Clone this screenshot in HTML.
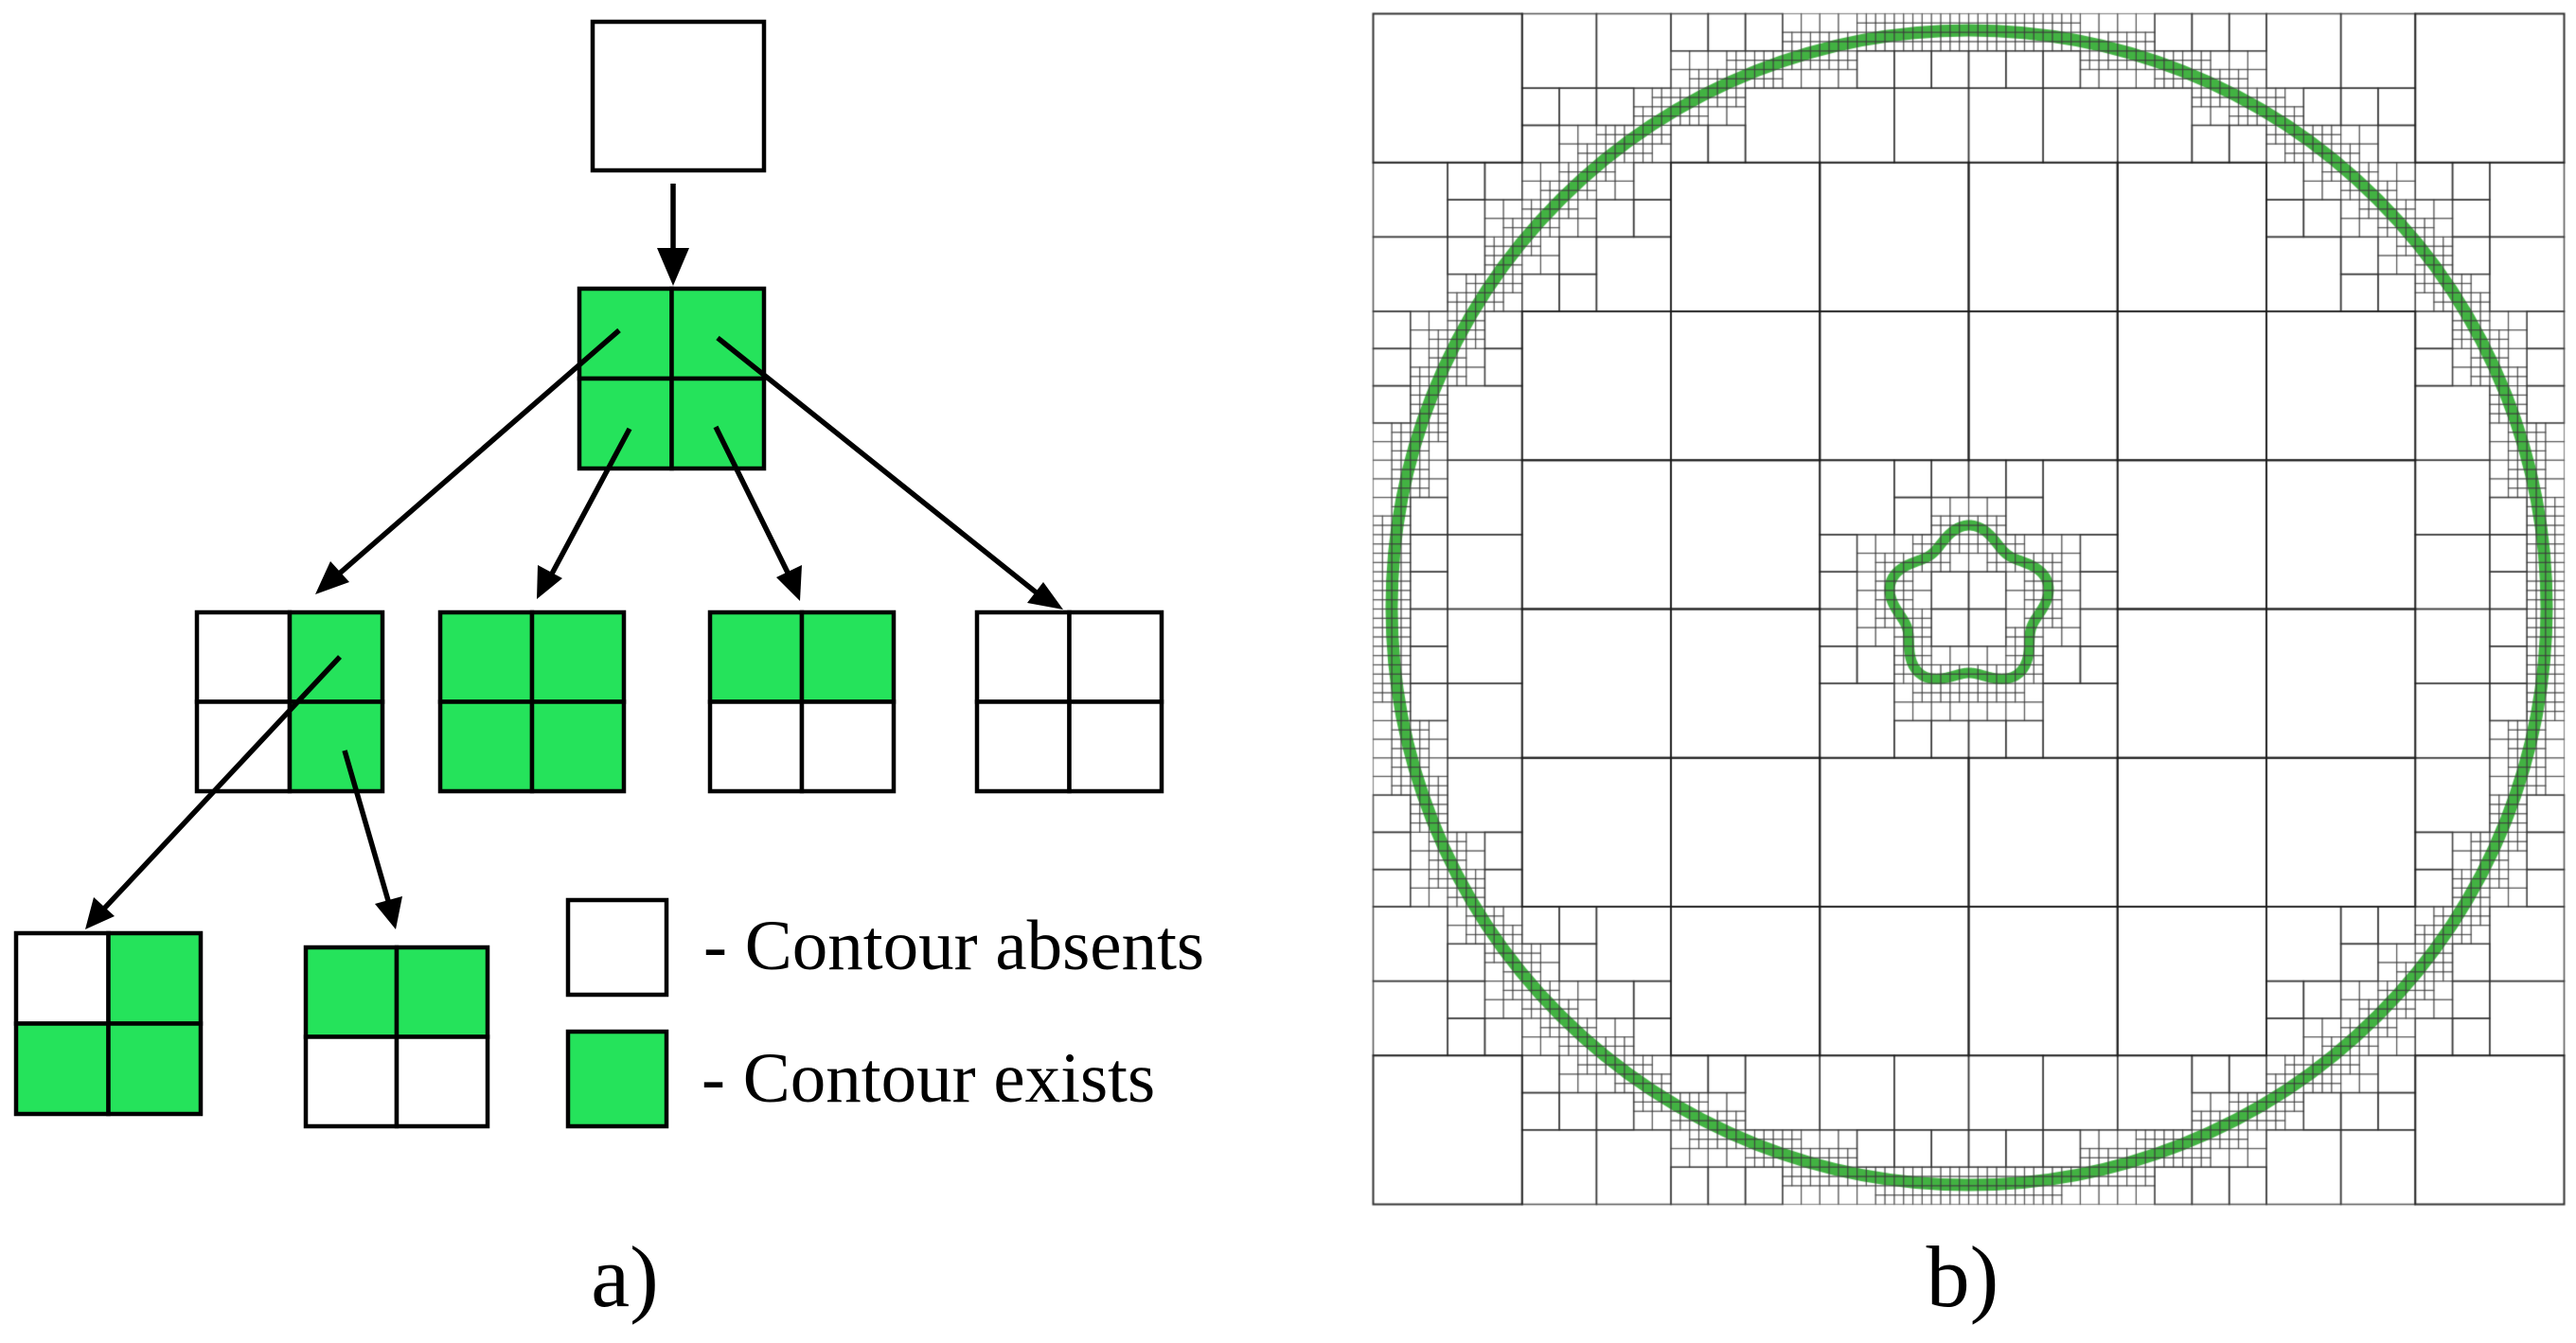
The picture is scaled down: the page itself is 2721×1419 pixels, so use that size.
<!DOCTYPE html>
<html><head><meta charset="utf-8"><style>
html,body{margin:0;padding:0;background:#fff}
#w{position:relative;width:2721px;height:1419px;overflow:hidden}
svg,canvas{position:absolute;left:0;top:0}
</style></head><body><div id="w">
<canvas id="c" width="2721" height="1419"></canvas>
<svg width="2721" height="1419" viewBox="0 0 2721 1419">
<g stroke="#000" stroke-width="4.5" fill="none">
<rect x="626" y="23" width="181" height="157" fill="#fff"/>
</g>
<g stroke="#000" stroke-width="4.5" id="boxes"></g>
<g stroke="#000" stroke-width="5.5">
<line x1="711" y1="194" x2="711" y2="266"/>
<line x1="654" y1="349" x2="355" y2="609"/>
<line x1="665" y1="453" x2="582" y2="608"/>
<line x1="756" y1="451" x2="834" y2="609"/>
<line x1="758" y1="357" x2="1097" y2="628"/>
<line x1="359" y1="694" x2="110" y2="960"/>
<line x1="364" y1="793" x2="411" y2="955"/>
</g>
<g fill="#000">
<polygon points="711,302 694,262 728,262"/>
<polygon points="333,628 349,593 369,615"/>
<polygon points="567,633 568,597 594,611"/>
<polygon points="845,635 820,610 847,597"/>
<polygon points="1123,644 1085,637 1102,615"/>
<polygon points="90,982 99,948 121,968"/>
<polygon points="418,982 396,955 425,947"/>
</g>
<g font-family="Liberation Serif, serif" fill="#000">
<text x="743" y="1024" font-size="75">- Contour absents</text>
<text x="741" y="1164" font-size="75">- Contour exists</text>
<text x="660" y="1380" font-size="92" text-anchor="middle">a)</text>
<text x="2073" y="1380" font-size="92" text-anchor="middle">b)</text>
</g>
</svg>
<script>
var G="#25e35b";
var bx=document.getElementById('boxes');
function quad(x,y,w,h,f){
  var s='';var hw=w/2,hh=h/2;
  var c=[[x,y],[x+hw,y],[x,y+hh],[x+hw,y+hh]];
  for(var i=0;i<4;i++) s+='<rect x="'+c[i][0]+'" y="'+c[i][1]+'" width="'+hw+'" height="'+hh+'" fill="'+(f[i]?G:'#fff')+'"/>';
  return s;
}
var h='';
h+=quad(612,305,195,190,[1,1,1,1]);
h+=quad(208,647,196,189,[0,1,0,1]);
h+=quad(465,647,194,189,[1,1,1,1]);
h+=quad(750,647,194,189,[1,1,0,0]);
h+=quad(1032,647,195,189,[0,0,0,0]);
h+=quad(17,986,195,191,[0,1,1,1]);
h+=quad(323,1001,192,189,[1,1,0,0]);
h+='<rect x="600" y="951" width="104" height="100" fill="#fff"/>';
h+='<rect x="600" y="1090" width="104" height="100" fill="'+G+'"/>';
bx.innerHTML=h;

var cv=document.getElementById('c'),ctx=cv.getContext('2d');
var X0=1450,Y0=14,S=1258,cx=2080,cy=642,R=610;
var pts=[];
for(var i=0;i<3000;i++){var t=i/3000*2*Math.PI;pts.push([cx+R*Math.cos(t),cy+R*Math.sin(t)]);}
var fp=[];
for(var i=0;i<800;i++){var t=i/800*2*Math.PI;var r=78+9*Math.cos(5*(t+Math.PI/2));fp.push([cx+r*Math.cos(t),cy+r*Math.sin(t)]);}
pts=pts.concat(fp);
var cells=[];
function sub(x,y,s,d,P){
  var m=6;
  var Q=P.filter(function(p){return p[0]>=x-m&&p[0]<=x+s+m&&p[1]>=y-m&&p[1]<=y+s+m;});
  if(d<3||(Q.length&&d<7)){var hs=s/2;
    sub(x,y,hs,d+1,Q);sub(x+hs,y,hs,d+1,Q);sub(x,y+hs,hs,d+1,Q);sub(x+hs,y+hs,hs,d+1,Q);}
  else cells.push([x,y,s,d]);
}
sub(X0,Y0,S,0,pts);
cells.sort(function(a,b){return b[3]-a[3];});
ctx.strokeStyle='rgba(45,170,45,0.9)';ctx.lineWidth=13;
ctx.beginPath();ctx.arc(cx,cy,R,0,2*Math.PI);ctx.stroke();
ctx.lineWidth=11;
ctx.beginPath();fp.forEach(function(p,i){i?ctx.lineTo(p[0],p[1]):ctx.moveTo(p[0],p[1]);});ctx.closePath();ctx.stroke();
cells.forEach(function(c){
  var d=c[3];
  ctx.lineWidth=d<=3?2:(d<=5?1.6:1.2);
  ctx.strokeStyle=d<=3?'rgba(30,30,30,0.9)':(d<=5?'rgba(50,50,50,0.8)':'rgba(60,60,60,0.6)');
  ctx.strokeRect(c[0]+0.5,c[1]+0.5,c[2],c[2]);
});
</script>
</div></body></html>
